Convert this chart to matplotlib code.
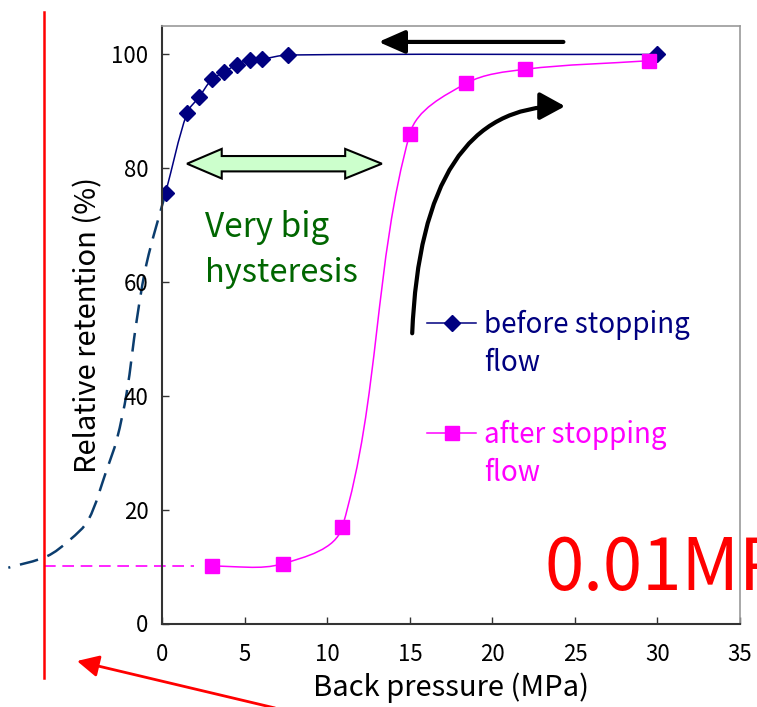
import numpy as np
import matplotlib
matplotlib.use("Agg")
import matplotlib.pyplot as plt
from matplotlib.path import Path
from matplotlib.patches import PathPatch, FancyArrowPatch, Polygon
from matplotlib.lines import Line2D

plt.rcParams['font.family'] = ['Noto Sans CJK JP', 'DejaVu Sans']

# data
before_x = [0.2, 1.5, 2.25, 3.0, 3.75, 4.5, 5.3, 6.05, 7.6, 30.0]
before_y = [75.7, 89.7, 92.6, 95.6, 96.9, 98.2, 99.1, 99.2, 99.9, 100.0]
after_x = [3.0, 7.3, 10.9, 15.0, 18.4, 22.0, 29.5]
after_y = [10.05, 10.5, 16.9, 86.1, 94.9, 97.4, 98.9]

# hand drawn extrapolation below 0 MPa (guide curve)
guide_x = [0.2, -0.95, -1.55, -2.16, -2.76, -3.37, -4.48, -5.6, -7.0, -9.33]
guide_y = [75.7, 63.3, 53.3, 40.5, 32.3, 27.0, 18.2, 14.7, 11.8, 9.8]

xticks = [0, 5, 10, 15, 20, 25, 30, 35]
yticks = [0, 20, 40, 60, 80, 100]

navy = '#000080'
pink = '#FF00FF'


def smooth(ax, xs, ys):
    # excel-like smoothed line, bezier control points built in display space
    pts = ax.transData.transform(np.column_stack([xs, ys]))
    n = len(pts)
    verts = [pts[0]]
    codes = [Path.MOVETO]
    for i in range(n - 1):
        p0 = pts[max(i - 1, 0)]
        p1 = pts[i]
        p2 = pts[i + 1]
        p3 = pts[min(i + 2, n - 1)]
        d = np.hypot(*(p2 - p1)) / 3.0
        t1 = p2 - p0
        t1 = t1 / np.hypot(*t1)
        t2 = p3 - p1
        t2 = t2 / np.hypot(*t2)
        verts += [p1 + t1 * d, p2 - t2 * d, p2]
        codes += [Path.CURVE4] * 3
    verts = ax.transData.inverted().transform(np.array(verts))
    return Path(verts, codes)


fig = plt.figure(figsize=(7.57, 7.07), dpi=100)
W, H = 757.0, 707.0
ax = fig.add_axes([162.3 / W, 1 - 623.5 / H, (740 - 162.3) / W, (623.5 - 26) / H])
ax.set_xlim(0, 35)
ax.set_ylim(0, 105)
ax.set_xticks(xticks)
ax.set_yticks(yticks)
ax.tick_params(direction='in', length=5, width=1, labelsize=16, colors='#333333', labelcolor='black')
ax.tick_params(axis='x', pad=14)
ax.tick_params(axis='y', pad=10)
for s in ['left', 'bottom']:
    ax.spines[s].set_color('#333333')
    ax.spines[s].set_linewidth(1.5)
for s in ['top', 'right']:
    ax.spines[s].set_color('#999999')
    ax.spines[s].set_linewidth(1.2)

ax.set_xlabel('Back pressure (MPa)', fontsize=21, labelpad=5)
ax.set_ylabel('Relative retention (%)', fontsize=21, labelpad=6)

# guide curve + dashed level line, outside the axes
ax.add_patch(PathPatch(smooth(ax, guide_x, guide_y), fill=False, ec='#0b3d6e', lw=1.8,
                       ls=(0, (7.5, 4)), clip_on=False))
ax.plot([-7.15, 1.9], [after_y[0], after_y[0]], color=pink, lw=1.2, ls=(0, (7, 4)), clip_on=False)

# series
ax.add_patch(PathPatch(smooth(ax, before_x, before_y), fill=False, ec=navy, lw=1.1))
ax.plot(before_x, before_y, ls='none', marker='D', ms=8, color=navy)
ax.add_patch(PathPatch(smooth(ax, after_x, after_y), fill=False, ec=pink, lw=1.1))
ax.plot(after_x, after_y, ls='none', marker='s', ms=10, color=pink)

# legend, drawn by hand
for yy, col, mk, ms, lines in [(52.8, navy, 'D', 8, ['before stopping', 'flow']),
                               (33.5, pink, 's', 10, ['after stopping', 'flow'])]:
    ax.plot([16.04, 17.53, 19.0], [yy, yy, yy], color=col, lw=1.1, marker=mk, ms=ms, markevery=[1])
    ax.text(19.5, yy - 1.75, lines[0], color=col, fontsize=20, va='baseline')
    ax.text(19.5, yy - 8.4, lines[1], color=col, fontsize=20, va='baseline')

# annotation text
ax.text(2.6, 68.0, 'Very big', color='#006600', fontsize=24, va='baseline')
ax.text(2.6, 60.1, 'hysteresis', color='#006600', fontsize=23.5, va='baseline')

# straight arrow at top
ax.annotate('', xy=(13.1, 102.2), xytext=(24.3, 102.2),
            arrowprops=dict(arrowstyle='-|>,head_length=0.5,head_width=0.22', lw=3, color='k',
                            mutation_scale=32, shrinkA=0, shrinkB=0))

# curved arrow
cpath = Path([(15.14, 51.0), (15.7, 91.0), (24.4, 90.9)], [Path.MOVETO, Path.CURVE3, Path.CURVE3])
ax.add_patch(FancyArrowPatch(path=cpath, arrowstyle='-|>,head_length=0.55,head_width=0.3',
                             mutation_scale=28, lw=3, color='k'))

# double headed light green arrow
yc, sh = 80.8, 1.35
xl, xr, hl, hr, hh = 1.5, 13.3, 3.6, 11.08, 2.6
ax.add_patch(Polygon([(xl, yc), (hl, yc + hh), (hl, yc + sh), (hr, yc + sh), (hr, yc + hh), (xr, yc),
                      (hr, yc - hh), (hr, yc - sh), (hl, yc - sh), (hl, yc - hh)],
                     closed=True, fc='#CCFFCC', ec='black', lw=1.5))

# red marks on the figure
fig.add_artist(Line2D([44 / W, 44 / W], [1 - 12 / H, 1 - 678 / H], color='red', lw=1.8))
fig.add_artist(FancyArrowPatch((275 / W, 1 - 708 / H), (77 / W, 1 - 661 / H), transform=fig.transFigure,
                               arrowstyle='-|>,head_length=0.6,head_width=0.3', mutation_scale=22,
                               lw=2, color='red', shrinkA=0, shrinkB=0))
fig.text(545 / W, 1 - 590 / H, '0.01MPa', color='red', fontsize=51, va='baseline')

fig.savefig('out.png', dpi=100)
